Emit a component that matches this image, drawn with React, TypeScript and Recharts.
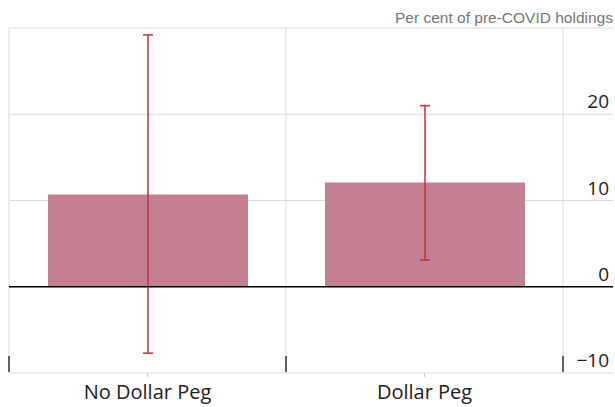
import React from 'react';
import { BarChart, Bar, XAxis, YAxis, CartesianGrid, ErrorBar, ReferenceLine } from 'recharts';

// values (per cent of pre-COVID holdings)
const categories = ['No Dollar Peg', 'Dollar Peg'];
const values = [10.7, 12.1];
const upperBounds = [29.2, 21.0];
const lowerBounds = [-7.7, 3.1];
const yTicks = [-10, 0, 10, 20, 30];
const yTickLabels = ['\u221210', '0', '10', '20', ''];
const unitLabel = 'Per cent of pre-COVID holdings';

const W = 615;
const H = 407;
const Y_AXIS_W = 52;
const X_AXIS_H = 34;
const MARGIN = { top: 28, right: 0, left: 9, bottom: 0 };
const PLOT_LEFT = MARGIN.left;
const PLOT_RIGHT = W - Y_AXIS_W;
const PLOT_BOTTOM = H - X_AXIS_H;
const BAND = (PLOT_RIGHT - PLOT_LEFT) / categories.length;

const FONT = '"Open Sans", "Noto Sans", sans-serif';
const GRID = '#d9d9d9';

const data = categories.map((name, i) => ({
  name,
  value: values[i],
  err: [values[i] - lowerBounds[i], upperBounds[i] - values[i]],
}));

function YTick(props: any) {
  const { y, payload, index } = props;
  const isZero = payload.value === 0;
  return (
    <g>
      <line x1={PLOT_RIGHT} x2={W - 2} y1={y} y2={y} stroke={isZero ? '#000' : GRID} strokeWidth={isZero ? 1.5 : 1} />
      <text x={W - 6} y={y - 6} textAnchor="end" fontSize={19} fontFamily={FONT} fill="#222">
        {yTickLabels[index] ?? ''}
      </text>
    </g>
  );
}

function XTick(props: any) {
  const { x, payload, index } = props;
  const left = x - BAND / 2;
  const last = index === categories.length - 1;
  return (
    <g>
      <line x1={x} x2={x} y1={PLOT_BOTTOM} y2={PLOT_BOTTOM + 4} stroke="#c8c8c8" />
      <line x1={left} x2={left} y1={PLOT_BOTTOM - 17} y2={PLOT_BOTTOM - 1} stroke="#333" strokeWidth={1.5} />
      {last && (
        <line x1={x + BAND / 2} x2={x + BAND / 2} y1={PLOT_BOTTOM - 17} y2={PLOT_BOTTOM - 1} stroke="#333" strokeWidth={1.5} />
      )}
      <text x={x} y={PLOT_BOTTOM + 26} textAnchor="middle" fontSize={20} fontFamily={FONT} fill="#222">
        {payload.value}
      </text>
    </g>
  );
}

export default function App() {
  return (
    <div style={{ position: 'absolute', left: 0, top: 0, width: W, height: H, background: '#fff' }}>
      <div
        style={{
          position: 'absolute',
          right: 2,
          top: 9,
          fontFamily: '"Liberation Sans", Arial, sans-serif',
          fontSize: 15.5,
          lineHeight: '18px',
          color: '#777',
          whiteSpace: 'nowrap',
        }}
      >
        {unitLabel}
      </div>
      <BarChart width={W} height={H} data={data} margin={MARGIN}>
        <CartesianGrid
          stroke={GRID}
          verticalCoordinatesGenerator={({ offset }: any) => [
            offset.left,
            offset.left + offset.width / 2,
            offset.left + offset.width,
          ]}
        />
        <XAxis dataKey="name" height={X_AXIS_H} axisLine={false} tickLine={false} tick={<XTick />} interval={0} />
        <YAxis
          orientation="right"
          width={Y_AXIS_W}
          domain={[-10, 30]}
          ticks={yTicks}
          axisLine={false}
          tickLine={false}
          tick={<YTick />}
          interval={0}
        />
        <Bar dataKey="value" fill="#c27f90" barSize={200} isAnimationActive={false}>
          <ErrorBar dataKey="err" width={5} stroke="#c0303c" strokeWidth={1.5} direction="y" isAnimationActive={false} />
        </Bar>
        <ReferenceLine y={0} stroke="#000" strokeWidth={1.5} />
      </BarChart>
    </div>
  );
}
